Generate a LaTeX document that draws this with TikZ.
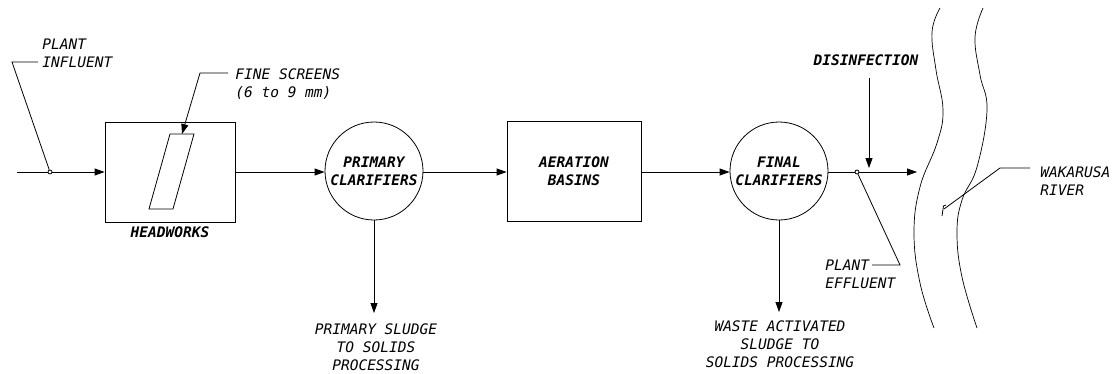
\documentclass[tikz,border=0pt]{standalone}
\usepackage{fontspec}
\setmonofont{DejaVu Sans Mono}[ItalicFont={DejaVu Sans Mono Oblique},BoldFont={DejaVu Sans Mono Bold},BoldItalicFont={DejaVu Sans Mono Bold Oblique}]
\usetikzlibrary{arrows.meta}
\begin{document}
\begin{tikzpicture}[x=1pt,y=-1pt,
  line width=0.8pt,
  every node/.style={font=\ttfamily\itshape\fontsize{14.5}{18}\selectfont, inner sep=0pt},
  lbl/.style={align=left},
  blbl/.style={font=\ttfamily\itshape\bfseries\fontsize{14.5}{18}\selectfont},
  flow/.style={-{Triangle[length=10pt,width=7pt]}},
  proc/.style={draw, rectangle, minimum height=100pt, align=center, blbl},
  clar/.style={draw, circle, minimum size=98pt, align=center, blbl},
  junc/.style={draw, circle, minimum size=4pt, fill=white}]
\useasboundingbox (0,0) rectangle (1117,373);
% process units
\node[proc, minimum width=130pt] (hw) at (170,172) {};
\node[blbl, anchor=north] (hwl) at (hw.south) [yshift=-4pt] {HEADWORKS};
\node[clar] (pc) at (374,171) {PRIMARY\\CLARIFIERS};
\node[proc, minimum width=134pt] (ab) at (574,171.5) {AERATION\\BASINS};
\node[clar] (fc) at (779,171) {FINAL\\CLARIFIERS};
% screen in headworks
\draw (170,134) -- (194,134) -- (173,209) -- (149,209) -- cycle;
\coordinate (fstop) at (182,134);
% influent
\coordinate (in0) at (17,172);
\node[junc] (j1) at (50,172) {};
\draw (in0) -- (j1);
\draw[flow] (j1) -- (hw.west);
\coordinate (inb1) at (12,62);
\coordinate (inb2) at (38,62);
\draw (j1) -- (inb1) -- (inb2);
\node[lbl, anchor=west] (inl) at (42,53) {PLANT\\INFLUENT};
% fine screens
\coordinate (fsb1) at (200,73);
\coordinate (fsb2) at (228,73);
\draw[flow] (fsb2) -- (fsb1) -- (fstop);
\node[lbl, anchor=west] (fsl) at (235,84) {FINE SCREENS\\(6 to 9 mm)};
% main flow
\draw[flow] (hw.east |- 0,172) -- (pc.west |- 0,172);
\draw[flow] (pc.east |- 0,172) -- (ab.west |- 0,172);
\draw[flow] (ab.east |- 0,172) -- (fc.west |- 0,172);
\node[junc] (j2) at (857,172) {};
\coordinate (out) at (917,172);
\draw (fc.east |- 0,172) -- (j2);
\draw[flow] (j2) -- (out);
% disinfection
\node[blbl] (dis) at (866,60) {DISINFECTION};
\coordinate (dtop) at (869,78);
\coordinate (dbot) at (869,168);
\draw[flow] (dtop) -- (dbot);
% plant effluent
\coordinate (peb1) at (900,265);
\coordinate (peb2) at (872,265);
\draw (j2) -- (peb1) -- (peb2);
\node[lbl, anchor=west] (pel) at (825,274) {PLANT\\EFFLUENT};
% sludge
\coordinate (ps) at (374,313);
\draw[flow] (pc.south) -- (ps);
\node[align=center] (psl) at (376,347.5) {PRIMARY SLUDGE\\TO SOLIDS\\PROCESSING};
\coordinate (ws) at (779,312);
\draw[flow] (fc.south) -- (ws);
\node[align=center] (wsl) at (780,344) {WASTE ACTIVATED\\SLUDGE TO\\SOLIDS PROCESSING};
% river
\draw[line width=0.7pt] plot[smooth, tension=0.7] coordinates {(940,8) (932,32) (936,70) (943,110) (937,143) (920,187) (914,233) (920,283) (934,328)};
\draw[line width=0.7pt] plot[smooth, tension=0.7] coordinates {(983,8) (975,37) (980,75) (987,110) (977,167) (962,200) (957,233) (962,277) (977,328)};
% wakarusa leader
\coordinate (wk0) at (944,209);
\coordinate (wk1) at (1000,168);
\coordinate (wk2) at (1030,168);
\draw (wk0) -- (wk1) -- (wk2);
\draw (942,216) -- (943.5,206) -- (946,205);
\node[lbl, anchor=west] (wkl) at (1040,181) {WAKARUSA\\RIVER};
\end{tikzpicture}
\end{document}
